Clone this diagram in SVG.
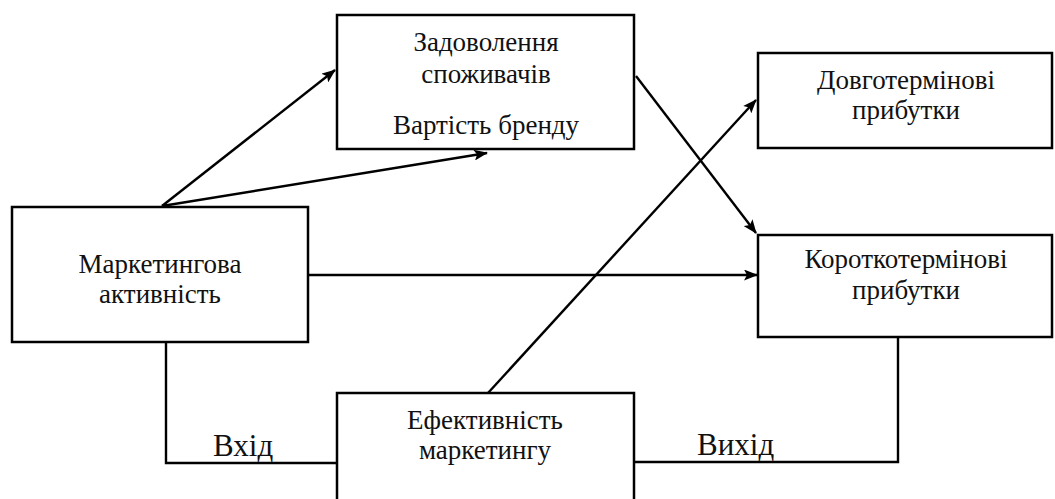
<svg xmlns="http://www.w3.org/2000/svg" width="1055" height="499" viewBox="0 0 1055 499">
<defs>
<marker id="ah" viewBox="0 0 14 11" refX="13" refY="5.5" markerWidth="14" markerHeight="11" markerUnits="userSpaceOnUse" orient="auto">
<path d="M0,0 L14,5.5 L0,11 L3,5.5 z" fill="#000"/>
</marker>
<style>
.box{fill:#fff;stroke:#000;stroke-width:2.5}
.t{font-family:"Liberation Serif","Times New Roman",serif;font-size:27px;fill:#111;text-anchor:middle}
.c{fill:none;stroke:#000;stroke-width:2.4}
.lbl{font-family:"Liberation Serif","Times New Roman",serif;font-size:31px;fill:#111}
</style>
</defs>
<rect width="1055" height="499" fill="#fff"/>
<g id="connectors">
<line class="c" x1="162" y1="206" x2="335" y2="70" marker-end="url(#ah)"/>
<line class="c" x1="162" y1="206" x2="487" y2="153" marker-end="url(#ah)"/>
<line class="c" x1="309" y1="275" x2="757" y2="275" marker-end="url(#ah)"/>
<line class="c" x1="636" y1="76" x2="756" y2="233" marker-end="url(#ah)"/>
<line class="c" x1="488" y1="393" x2="756" y2="100" marker-end="url(#ah)"/>
<polyline class="c" points="166,342 166,463 337,463"/>
<polyline class="c" points="634,462 898,462 898,337"/>
<text class="lbl" x="213" y="456">Вхід</text>
<text class="lbl" x="697" y="455">Вихід</text>
</g>
<g id="node-satisfaction">
<rect class="box" x="337" y="15" width="297" height="134"/>
<text class="t" x="486" y="51">Задоволення</text>
<text class="t" x="486" y="83">споживачів</text>
<text class="t" x="486" y="134">Вартість бренду</text>
</g>
<g id="node-longterm">
<rect class="box" x="758" y="53" width="294" height="95"/>
<text class="t" x="906" y="89">Довготермінові</text>
<text class="t" x="906" y="119">прибутки</text>
</g>
<g id="node-activity">
<rect class="box" x="12" y="207" width="296" height="135"/>
<text class="t" x="160" y="273">Маркетингова</text>
<text class="t" x="160" y="303">активність</text>
</g>
<g id="node-shortterm">
<rect class="box" x="758" y="235" width="294" height="102"/>
<text class="t" x="906" y="268">Короткотермінові</text>
<text class="t" x="906" y="299">прибутки</text>
</g>
<g id="node-effectiveness">
<rect class="box" x="337" y="393" width="297" height="120"/>
<text class="t" x="485" y="429">Ефективність</text>
<text class="t" x="485" y="459">маркетингу</text>
</g>
</svg>
